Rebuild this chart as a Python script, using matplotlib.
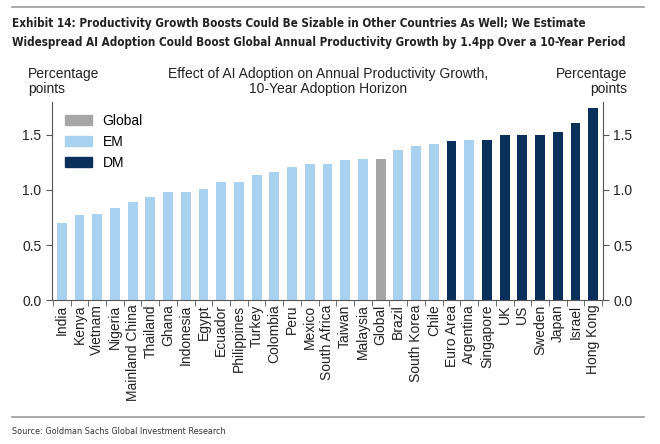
import numpy as np
import matplotlib
matplotlib.use("Agg")
import matplotlib.pyplot as plt
from matplotlib.patches import Patch
from matplotlib import font_manager

# data
countries = ["India", "Kenya", "Vietnam", "Nigeria", "Mainland China", "Thailand",
             "Ghana", "Indonesia", "Egypt", "Ecuador", "Philippines", "Turkey",
             "Colombia", "Peru", "Mexico", "South Africa", "Taiwan", "Malaysia",
             "Global", "Brazil", "South Korea", "Chile", "Euro Area", "Argentina",
             "Singapore", "UK", "US", "Sweden", "Japan", "Israel", "Hong Kong"]
values = [0.70, 0.77, 0.78, 0.84, 0.89, 0.94, 0.98, 0.98, 1.01, 1.07, 1.07, 1.14,
          1.16, 1.21, 1.24, 1.24, 1.27, 1.28, 1.28, 1.36, 1.40, 1.42, 1.44, 1.45,
          1.45, 1.50, 1.50, 1.50, 1.53, 1.61, 1.74]
groups = ["EM"] * 18 + ["Global", "EM", "EM", "EM", "DM", "EM", "DM",
                        "DM", "DM", "DM", "DM", "DM", "DM"]

colors = {"Global": "#a6a6a6", "EM": "#a9d2f0", "DM": "#0b2f5b"}

title1 = "Exhibit 14: Productivity Growth Boosts Could Be Sizable in Other Countries As Well; We Estimate"
title2 = "Widespread AI Adoption Could Boost Global Annual Productivity Growth by 1.4pp Over a 10-Year Period"
source = "Source: Goldman Sachs Global Investment Research"

plt.rcParams["font.family"] = ["Liberation Sans", "DejaVu Sans"]

# narrow font for the title / source if a condensed face is around
narrow = dict(family=["Liberation Sans"])
fp = font_manager.FontProperties(family="DejaVu Sans", stretch="condensed", weight="bold")
if "Condensed" in font_manager.findfont(fp, fallback_to_default=False):
    narrow = dict(family=["DejaVu Sans"], fontstretch="condensed")

fig = plt.figure(figsize=(6.6, 4.44), dpi=100)
ax = fig.add_axes([0.0788, 0.3236, 0.8348, 0.4473])

x = np.arange(len(countries))
ax.bar(x, values, width=0.56, color=[colors[g] for g in groups])

ax.set_xlim(-0.55, len(countries) - 0.45)
ax.set_ylim(0, 1.8)
ax.set_yticks([0, 0.5, 1.0, 1.5])
ax.set_yticklabels(["0.0", "0.5", "1.0", "1.5"])
ax.set_xticks(x)
ax.set_xticklabels(countries, rotation=90, fontsize=10, color="#222222")
ax.set_xticks(np.arange(len(countries) + 1) - 0.5, minor=True)
ax.tick_params(axis="x", which="major", length=0, pad=3)
ax.tick_params(axis="x", which="minor", length=4, direction="out", color="#555555")
ax.tick_params(axis="y", which="major", length=4, direction="out", left=True, right=True,
               labelleft=True, labelright=True, labelsize=10, color="#555555",
               labelcolor="#222222")
ax.spines["top"].set_visible(False)
for side in ["left", "right", "bottom"]:
    ax.spines[side].set_color("#555555")

handles = [Patch(color=colors[k]) for k in ["Global", "EM", "DM"]]
ax.legend(handles, ["Global", "EM", "DM"], loc="upper left", frameon=False,
          fontsize=10, handlelength=1.95, handleheight=0.75, labelspacing=0.5,
          bbox_to_anchor=(0.0, 1.0))

# titles and notes
fig.add_artist(plt.Line2D([0.018, 0.976], [0.984, 0.984], color="#999999", lw=1.2))
t1 = fig.text(0.018, 0.946, title1, fontsize=10, fontweight="bold", va="center",
              color="#222222", **narrow)
t2 = fig.text(0.018, 0.905, title2, fontsize=10, fontweight="bold", va="center",
              color="#222222", **narrow)
src = fig.text(0.018, 0.029, source, fontsize=8, va="center", color="#333333", **narrow)

# squeeze the narrow texts to the widths they have in the reference
fig.canvas.draw()
r = fig.canvas.get_renderer()
for t, w in [(t1, 567), (t2, 610), (src, 213)]:
    cur = t.get_window_extent(r).width
    t.set_fontsize(t.get_fontsize() * w / cur)

fig.text(0.042, 0.817, "Percentage\npoints", fontsize=10, va="center", ha="left",
         linespacing=1.1, color="#222222")
fig.text(0.951, 0.817, "Percentage\npoints", fontsize=10, va="center", ha="right",
         linespacing=1.1, color="#222222", multialignment="right")
fig.text(0.497, 0.817, "Effect of AI Adoption on Annual Productivity Growth,\n10-Year Adoption Horizon",
         fontsize=10, va="center", ha="center", linespacing=1.1, color="#222222")

fig.add_artist(plt.Line2D([0.018, 0.976], [0.061, 0.061], color="#999999", lw=1.2))

fig.savefig("out.png", dpi=100)
